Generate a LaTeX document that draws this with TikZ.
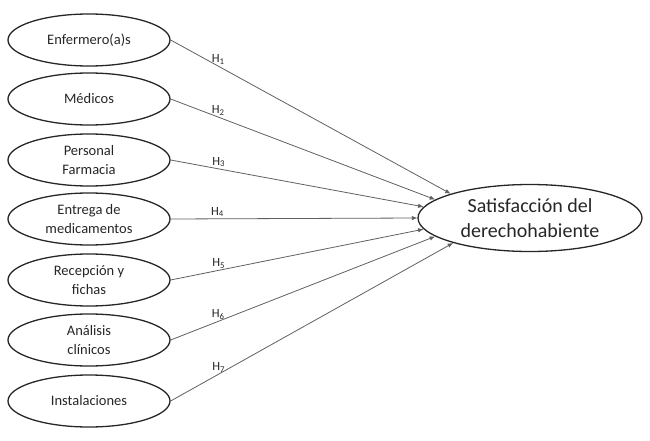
\documentclass[tikz,border=0pt]{standalone}
\usepackage{fontspec}
\setmainfont{Carlito}
\usetikzlibrary{arrows.meta,shapes.geometric}
\definecolor{inkc}{HTML}{262626}
\definecolor{linec}{HTML}{606060}
\begin{document}
\begin{tikzpicture}[x=1pt,y=-1pt,
  src/.style={draw=inkc, line width=1.3pt, ellipse, minimum width=162pt, minimum height=52pt,
    inner sep=0pt, align=center, font=\fontsize{14.5}{18.5}\selectfont, text=inkc},
  tgt/.style={draw=inkc, line width=1.3pt, ellipse, minimum width=224pt, minimum height=67pt,
    inner sep=0pt, align=center, font=\fontsize{20}{25}\selectfont, text=inkc},
  link/.style={draw=linec, line width=0.8pt, -{Latex[length=5.5pt,width=4.5pt]}},
  hlab/.style={above, inner sep=1.5pt, font=\fontsize{12.5}{13}\selectfont, text=inkc}]
\useasboundingbox (0,0) rectangle (650,441);
\node[src] (e1) at (89,40) {Enfermero(a)s};
\node[src] (e2) at (89,99) {Médicos};
\node[src] (e3) at (89,160) {Personal\\Farmacia};
\node[src] (e4) at (89,219) {Entrega de\\medicamentos};
\node[src] (e5) at (89,280) {Recepción y\\fichas};
\node[src] (e6) at (89,340) {Análisis\\clínicos};
\node[src] (e7) at (89,401) {Instalaciones};
\node[tgt] (s) at (530,218) {Satisfacción del\\derechohabiente};
\draw[link] (e1.east) -- node[hlab, pos=0.17] {H\textsubscript{1}} (s.163);
\draw[link] (e2.east) -- node[hlab, pos=0.18] {H\textsubscript{2}} (s.169);
\draw[link] (e3.east) -- node[hlab, pos=0.19] {H\textsubscript{3}} (s.174);
\draw[link] (e4.east) -- node[hlab, pos=0.19] {H\textsubscript{4}} (s.180);
\draw[link] (e5.east) -- node[hlab, pos=0.19] {H\textsubscript{5}} (s.186);
\draw[link] (e6.east) -- node[hlab, pos=0.18] {H\textsubscript{6}} (s.191);
\draw[link] (e7.east) -- node[hlab, pos=0.17] {H\textsubscript{7}} (s.198);
\end{tikzpicture}
\end{document}
